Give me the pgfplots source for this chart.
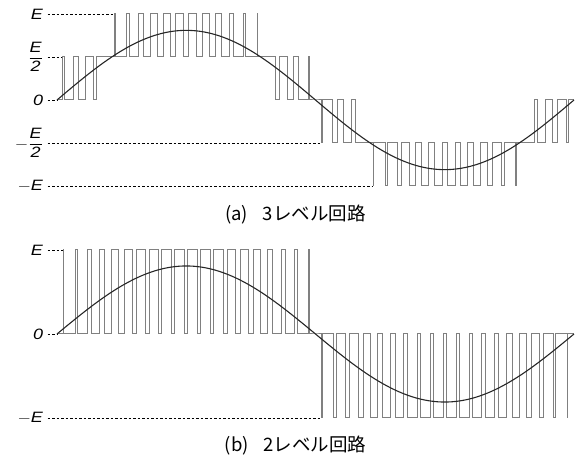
\documentclass[border=0pt]{standalone}
\usepackage{fontspec}
\setmainfont{Liberation Sans}
\newfontfamily\jp{Noto Sans CJK JP}
\usepackage{pgfplots}
\pgfplotsset{compat=1.18}
\newcommand{\fr}{$\displaystyle\frac{\textit{E}}{\textit{2}}$}
\tikzset{
  wave/.style={black!50, line width=1pt, line join=miter},
  sine/.style={black!85, line width=1.1pt, smooth},
  guide/.style={black, line width=0.5pt, dash pattern=on 2.5pt off 2pt},
  lbl/.style={anchor=east, inner sep=0pt, xscale=1.2, font=\fontsize{15}{15}\selectfont},
}
\begin{document}
\begin{tikzpicture}
\path[use as bounding box] (0,0) rectangle (587pt,461pt);
% ---------------- (a) 3-level ----------------
\begin{axis}[at={(57pt,275pt)}, anchor=south west, scale only axis,
  width=517pt, height=172pt, xmin=0, xmax=360, ymin=-1, ymax=1,
  axis lines=none, clip=false]
\addplot[guide] coordinates {(-6.5,1)(40.32,1)};
\addplot[guide] coordinates {(-6.5,0.5)(3.93,0.5)};
\addplot[guide] coordinates {(-6.5,0)(0,0)};
\addplot[guide] coordinates {(-6.5,-0.5)(183.93,-0.5)};
\addplot[guide] coordinates {(-6.5,-1)(220.32,-1)};
\addplot[wave] coordinates {
(0,0)(3.93,0)(3.93,0.5)(5.07,0.5)(5.07,0)(11.82,0)(11.82,0.5)(15.18,0.5)(15.18,0)
(19.74,0)(19.74,0.5)(25.26,0.5)(25.26,0)(27.74,0)(27.74,0.5)
(40.32,0.5)(40.32,1)(40.68,1)(40.68,0.5)(48.52,0.5)(48.52,1)(50.48,1)(50.48,0.5)
(56.86,0.5)(56.86,1)(60.14,1)(60.14,0.5)(65.35,0.5)(65.35,1)(69.65,1)(69.65,0.5)
(74.00,0.5)(74.00,1)(79.00,1)(79.00,0.5)(82.82,0.5)(82.82,1)(88.18,1)(88.18,0.5)
(91.82,0.5)(91.82,1)(97.18,1)(97.18,0.5)(101.00,0.5)(101.00,1)(106.00,1)(106.00,0.5)
(110.35,0.5)(110.35,1)(114.65,1)(114.65,0.5)(119.86,0.5)(119.86,1)(123.14,1)(123.14,0.5)
(129.52,0.5)(129.52,1)(131.48,1)(131.48,0.5)(139.32,0.5)(139.32,1)(139.68,1)(139.68,0.5)
(152.26,0.5)(152.26,0)(154.74,0)(154.74,0.5)(160.26,0.5)(160.26,0)
(164.82,0)(164.82,0.5)(168.18,0.5)(168.18,0)(174.93,0)(174.93,0.5)(176.07,0.5)(176.07,0)
(180,0)(183.93,0)(183.93,-0.5)(185.07,-0.5)(185.07,0)(191.82,0)(191.82,-0.5)(195.18,-0.5)(195.18,0)
(199.74,0)(199.74,-0.5)(205.26,-0.5)(205.26,0)(207.74,0)(207.74,-0.5)
(220.32,-0.5)(220.32,-1)(220.68,-1)(220.68,-0.5)(228.52,-0.5)(228.52,-1)(230.48,-1)(230.48,-0.5)
(236.86,-0.5)(236.86,-1)(240.14,-1)(240.14,-0.5)(245.35,-0.5)(245.35,-1)(249.65,-1)(249.65,-0.5)
(254.00,-0.5)(254.00,-1)(259.00,-1)(259.00,-0.5)(262.82,-0.5)(262.82,-1)(268.18,-1)(268.18,-0.5)
(271.82,-0.5)(271.82,-1)(277.18,-1)(277.18,-0.5)(281.00,-0.5)(281.00,-1)(286.00,-1)(286.00,-0.5)
(290.35,-0.5)(290.35,-1)(294.65,-1)(294.65,-0.5)(299.86,-0.5)(299.86,-1)(303.14,-1)(303.14,-0.5)
(309.52,-0.5)(309.52,-1)(311.48,-1)(311.48,-0.5)(319.32,-0.5)(319.32,-1)(319.68,-1)(319.68,-0.5)
(332.26,-0.5)(332.26,0)(334.74,0)(334.74,-0.5)(340.26,-0.5)(340.26,0)
(344.82,0)(344.82,-0.5)(348.18,-0.5)(348.18,0)(354.93,0)(354.93,-0.5)(356.07,-0.5)(356.07,0)
(360,0)};
\addplot[sine] coordinates {
(0,0)(5,0.0706)(10,0.1406)(15,0.2096)(20,0.2770)(25,0.3423)(30,0.4050)(35,0.4646)(40,0.5207)
(45,0.5728)(50,0.6205)(55,0.6636)(60,0.7015)(65,0.7341)(70,0.7612)(75,0.7824)(80,0.7977)(85,0.8069)
(90,0.8100)(95,0.8069)(100,0.7977)(105,0.7824)(110,0.7612)(115,0.7341)(120,0.7015)(125,0.6636)
(130,0.6205)(135,0.5728)(140,0.5207)(145,0.4646)(150,0.4050)(155,0.3423)(160,0.2770)(165,0.2096)
(170,0.1406)(175,0.0706)(180,0)(185,-0.0706)(190,-0.1406)(195,-0.2096)(200,-0.2770)(205,-0.3423)
(210,-0.4050)(215,-0.4646)(220,-0.5207)(225,-0.5728)(230,-0.6205)(235,-0.6636)(240,-0.7015)
(245,-0.7341)(250,-0.7612)(255,-0.7824)(260,-0.7977)(265,-0.8069)(270,-0.8100)(275,-0.8069)
(280,-0.7977)(285,-0.7824)(290,-0.7612)(295,-0.7341)(300,-0.7015)(305,-0.6636)(310,-0.6205)
(315,-0.5728)(320,-0.5207)(325,-0.4646)(330,-0.4050)(335,-0.3423)(340,-0.2770)(345,-0.2096)
(350,-0.1406)(355,-0.0706)(360,0)};
\node[lbl] at (axis cs:-9.5,1) {\textit{E}};
\node[lbl] at (axis cs:-9.5,0.5) {\fr};
\node[lbl] at (axis cs:-9.5,0) {\textit{0}};
\node[lbl] at (axis cs:-9.5,-0.5) {$-$\fr};
\node[lbl] at (axis cs:-9.5,-1) {$-$\textit{E}};
\end{axis}
% ---------------- (b) 2-level ----------------
\begin{axis}[at={(57pt,43pt)}, anchor=south west, scale only axis,
  width=517pt, height=168pt, xmin=0, xmax=360, ymin=-1, ymax=1,
  axis lines=none, clip=false]
\addplot[guide] coordinates {(-6.5,1)(4.22,1)};
\addplot[guide] coordinates {(-6.5,0)(0,0)};
\addplot[guide] coordinates {(-6.5,-1)(184.22,-1)};
\addplot[wave] coordinates {
(0,0)(4.22,0)(4.22,1)(4.78,1)(4.78,0)(12.66,0)(12.66,1)(14.34,1)(14.34,0)
(21.12,0)(21.12,1)(23.88,1)(23.88,0)(29.62,0)(29.62,1)(33.38,1)(33.38,0)
(38.16,0)(38.16,1)(42.84,1)(42.84,0)(46.76,0)(46.76,1)(52.24,1)(52.24,0)
(55.43,0)(55.43,1)(61.57,1)(61.57,0)(64.17,0)(64.17,1)(70.83,1)(70.83,0)
(73.00,0)(73.00,1)(80.00,1)(80.00,0)(81.91,0)(81.91,1)(89.09,1)(89.09,0)
(90.91,0)(90.91,1)(98.09,1)(98.09,0)(100.00,0)(100.00,1)(107.00,1)(107.00,0)
(109.17,0)(109.17,1)(115.83,1)(115.83,0)(118.43,0)(118.43,1)(124.57,1)(124.57,0)
(127.76,0)(127.76,1)(133.24,1)(133.24,0)(137.16,0)(137.16,1)(141.84,1)(141.84,0)
(146.62,0)(146.62,1)(150.38,1)(150.38,0)(156.12,0)(156.12,1)(158.88,1)(158.88,0)
(165.66,0)(165.66,1)(167.34,1)(167.34,0)(175.22,0)(175.22,1)(175.78,1)(175.78,0)
(180,0)(184.22,0)(184.22,-1)(184.78,-1)(184.78,0)(192.66,0)(192.66,-1)(194.34,-1)(194.34,0)
(201.12,0)(201.12,-1)(203.88,-1)(203.88,0)(209.62,0)(209.62,-1)(213.38,-1)(213.38,0)
(218.16,0)(218.16,-1)(222.84,-1)(222.84,0)(226.76,0)(226.76,-1)(232.24,-1)(232.24,0)
(235.43,0)(235.43,-1)(241.57,-1)(241.57,0)(244.17,0)(244.17,-1)(250.83,-1)(250.83,0)
(253.00,0)(253.00,-1)(260.00,-1)(260.00,0)(261.91,0)(261.91,-1)(269.09,-1)(269.09,0)
(270.91,0)(270.91,-1)(278.09,-1)(278.09,0)(280.00,0)(280.00,-1)(287.00,-1)(287.00,0)
(289.17,0)(289.17,-1)(295.83,-1)(295.83,0)(298.43,0)(298.43,-1)(304.57,-1)(304.57,0)
(307.76,0)(307.76,-1)(313.24,-1)(313.24,0)(317.16,0)(317.16,-1)(321.84,-1)(321.84,0)
(326.62,0)(326.62,-1)(330.38,-1)(330.38,0)(336.12,0)(336.12,-1)(338.88,-1)(338.88,0)
(345.66,0)(345.66,-1)(347.34,-1)(347.34,0)(355.22,0)(355.22,-1)(355.78,-1)(355.78,0)
(360,0)};
\addplot[sine] coordinates {
(0,0)(5,0.0706)(10,0.1406)(15,0.2096)(20,0.2770)(25,0.3423)(30,0.4050)(35,0.4646)(40,0.5207)
(45,0.5728)(50,0.6205)(55,0.6636)(60,0.7015)(65,0.7341)(70,0.7612)(75,0.7824)(80,0.7977)(85,0.8069)
(90,0.8100)(95,0.8069)(100,0.7977)(105,0.7824)(110,0.7612)(115,0.7341)(120,0.7015)(125,0.6636)
(130,0.6205)(135,0.5728)(140,0.5207)(145,0.4646)(150,0.4050)(155,0.3423)(160,0.2770)(165,0.2096)
(170,0.1406)(175,0.0706)(180,0)(185,-0.0706)(190,-0.1406)(195,-0.2096)(200,-0.2770)(205,-0.3423)
(210,-0.4050)(215,-0.4646)(220,-0.5207)(225,-0.5728)(230,-0.6205)(235,-0.6636)(240,-0.7015)
(245,-0.7341)(250,-0.7612)(255,-0.7824)(260,-0.7977)(265,-0.8069)(270,-0.8100)(275,-0.8069)
(280,-0.7977)(285,-0.7824)(290,-0.7612)(295,-0.7341)(300,-0.7015)(305,-0.6636)(310,-0.6205)
(315,-0.5728)(320,-0.5207)(325,-0.4646)(330,-0.4050)(335,-0.3423)(340,-0.2770)(345,-0.2096)
(350,-0.1406)(355,-0.0706)(360,0)};
\node[lbl] at (axis cs:-9.5,1) {\textit{E}};
\node[lbl] at (axis cs:-9.5,0) {\textit{0}};
\node[lbl] at (axis cs:-9.5,-1) {$-$\textit{E}};
\end{axis}
% captions
\node[inner sep=0pt, font=\jp\fontsize{18.5}{18.5}\selectfont] at (295.5pt,246pt) {(a)\hspace{0.8em}3レベル回路};
\node[inner sep=0pt, font=\jp\fontsize{18.5}{18.5}\selectfont] at (295.5pt,15.5pt) {(b)\hspace{0.8em}2レベル回路};
\end{tikzpicture}
\end{document}
